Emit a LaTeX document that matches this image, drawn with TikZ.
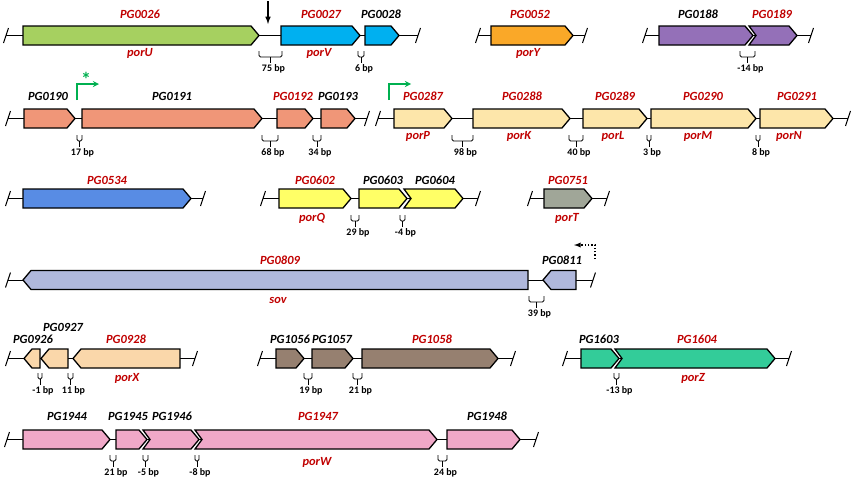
\documentclass[tikz,border=0pt]{standalone}
\usepackage{fontspec}
\setmainfont{Carlito}
\usepackage{xcolor}
\usepackage{tikz}
\usetikzlibrary{arrows}

\definecolor{pgred}{RGB}{192,0,0}
\definecolor{pgreen}{RGB}{0,176,80}
\definecolor{cporU}{RGB}{166,208,96}
\definecolor{cporV}{RGB}{0,176,240}
\definecolor{cporY}{RGB}{250,168,40}
\definecolor{c0188}{RGB}{148,112,184}
\definecolor{c0190}{RGB}{240,150,120}
\definecolor{cporP}{RGB}{253,230,170}
\definecolor{c0534}{RGB}{88,140,228}
\definecolor{cporQ}{RGB}{255,255,102}
\definecolor{cporT}{RGB}{160,166,152}
\definecolor{csov}{RGB}{176,184,220}
\definecolor{cporX}{RGB}{250,215,170}
\definecolor{c1056}{RGB}{150,128,112}
\definecolor{cporZ}{RGB}{51,204,153}
\definecolor{cporW}{RGB}{240,168,200}

% gene arrows: start, tip, row, colour
\newcommand{\genefwd}[4]{\draw[gene,fill=#4] (#1bp,-#3bp+9.5bp) -- (#2bp-8bp,-#3bp+9.5bp) -- (#2bp,-#3bp) -- (#2bp-8bp,-#3bp-9.5bp) -- (#1bp,-#3bp-9.5bp) -- cycle;}
\newcommand{\genecut}[4]{\draw[gene,fill=#4] (#1bp,-#3bp+9.5bp) -- (#2bp-8bp,-#3bp+9.5bp) -- (#2bp,-#3bp) -- (#2bp-8bp,-#3bp-9.5bp) -- (#1bp,-#3bp-9.5bp) -- (#1bp+7bp,-#3bp) -- cycle;}
\newcommand{\generev}[4]{\draw[gene,fill=#4] (#1bp,-#3bp) -- (#1bp+8bp,-#3bp+9.5bp) -- (#2bp,-#3bp+9.5bp) -- (#2bp,-#3bp-9.5bp) -- (#1bp+8bp,-#3bp-9.5bp) -- cycle;}
% break mark on the chromosome line
\newcommand{\brk}[2]{\draw[axis] (#1bp-2.5bp,-#2bp-7.5bp) -- (#1bp+2.5bp,-#2bp+7.5bp);}
% intergenic gap: name, x0, x1, top, text
\newcommand{\gapmark}[5]{%
  \draw[tick,rounded corners=1.5bp] (#2bp,-#4bp) -- (#2bp,-#4bp-6bp) -- (#3bp,-#4bp-6bp) -- (#3bp,-#4bp);
  \draw[tick] (#2bp/2+#3bp/2,-#4bp-6bp) -- ++(0,-6bp) node[bplbl,below,xshift=3bp] (#1) {#5};}

\begin{document}
\begin{tikzpicture}[
    gene/.style={draw=black,line width=1.3bp},
    axis/.style={line width=1bp},
    tick/.style={line width=0.9bp},
    pglbl/.style={font=\bfseries\itshape\fontsize{12.5}{14}\selectfont,text=pgred,inner sep=0pt},
    pgblk/.style={font=\bfseries\itshape\fontsize{12.5}{14}\selectfont,text=black,inner sep=0pt},
    bplbl/.style={font=\bfseries\fontsize{10}{11}\selectfont,inner sep=1bp,yshift=-0.5bp},
    promoter/.style={draw=pgreen,line width=1.7bp,-stealth}
]
\useasboundingbox (0bp,0bp) rectangle (856bp,-482bp);

% ---- row 1
\draw[axis] (6bp,-35.5bp) -- (418bp,-35.5bp);
\brk{6}{35.5} \brk{418}{35.5}
\genefwd{23}{259}{35.5}{cporU}
\genefwd{281}{360}{35.5}{cporV}
\genefwd{365}{399}{35.5}{cporV}
\draw[axis] (478bp,-35.5bp) -- (585bp,-35.5bp);
\brk{478}{35.5} \brk{585}{35.5}
\genefwd{491}{573}{35.5}{cporY}
\draw[axis] (645bp,-35.5bp) -- (811bp,-35.5bp);
\brk{645}{35.5} \brk{811}{35.5}
\genefwd{659}{753}{35.5}{c0188}
\genecut{749}{797}{35.5}{c0188}

\node (PG0026) at (140bp,-14bp)[pglbl] {PG0026};
\node (PG0027) at (321bp,-14bp)[pglbl] {PG0027};
\node (PG0028) at (381bp,-14bp)[pgblk] {PG0028};
\node (PG0052) at (530bp,-14bp)[pglbl] {PG0052};
\node (PG0188) at (698bp,-14bp)[pgblk] {PG0188};
\node (PG0189) at (772bp,-14bp)[pglbl] {PG0189};
\node (porU) at (140bp,-53bp)[pglbl] {porU};
\node (porV) at (319bp,-53bp)[pglbl] {porV};
\node (porY) at (528bp,-53bp)[pglbl] {porY};
\gapmark{g75}{259}{282}{51}{75 bp}
\gapmark{g6}{358}{364}{51}{6 bp}
\gapmark{g14}{740}{755}{51}{-14 bp}
\coordinate (cut1) at (268bp,-1bp);
\coordinate (cut2) at (268bp,-24bp);
\draw[-latex,line width=1.5bp] (cut1) -- (cut2);

% ---- row 2
\draw[axis] (8bp,-118.5bp) -- (367bp,-118.5bp);
\draw[axis] (378bp,-118.5bp) -- (848bp,-118.5bp);
\brk{8}{118.5} \brk{367}{118.5} \brk{378}{118.5} \brk{848}{118.5}
\genefwd{24}{75}{118.5}{c0190}
\genefwd{82}{262}{118.5}{c0190}
\genefwd{277}{313}{118.5}{c0190}
\genefwd{321}{355}{118.5}{c0190}
\genefwd{394}{452}{118.5}{cporP}
\genefwd{473}{570}{118.5}{cporP}
\genefwd{583}{647}{118.5}{cporP}
\genefwd{651}{756}{118.5}{cporP}
\genefwd{760}{833}{118.5}{cporP}

\node (PG0190) at (48bp,-96bp)[pgblk] {PG0190};
\node (PG0191) at (172bp,-96bp)[pgblk] {PG0191};
\node (PG0192) at (293bp,-96bp)[pglbl] {PG0192};
\node (PG0193) at (338bp,-96bp)[pgblk] {PG0193};
\node (PG0287) at (423bp,-96bp)[pglbl] {PG0287};
\node (PG0288) at (522bp,-96bp)[pglbl] {PG0288};
\node (PG0289) at (615bp,-96bp)[pglbl] {PG0289};
\node (PG0290) at (703bp,-96bp)[pglbl] {PG0290};
\node (PG0291) at (797bp,-96bp)[pglbl] {PG0291};
\node (porP) at (418bp,-136bp)[pglbl] {porP};
\node (porK) at (519bp,-136bp)[pglbl] {porK};
\node (porL) at (613bp,-136bp)[pglbl] {porL};
\node (porM) at (698bp,-136bp)[pglbl] {porM};
\node (porN) at (789bp,-136bp)[pglbl] {porN};
\gapmark{g17}{77}{82}{135}{17 bp}
\gapmark{g68}{262}{278}{135}{68 bp}
\gapmark{g34}{313}{321}{135}{34 bp}
\gapmark{g98}{452}{473}{135}{98 bp}
\gapmark{g40}{569}{583}{135}{40 bp}
\gapmark{g3}{647}{651}{135}{3 bp}
\gapmark{g8}{756}{760}{135}{8 bp}
\coordinate (p1) at (77bp,-100bp);
\coordinate (p1e) at (99bp,-84bp);
\draw[promoter] (p1) |- (p1e);
\node (star) at (86bp,-79bp)[text=pgreen,font=\bfseries\fontsize{20}{20}\selectfont,inner sep=0pt] {*};
\coordinate (p2) at (389bp,-100bp);
\coordinate (p2e) at (411bp,-84bp);
\draw[promoter] (p2) |- (p2e);

% ---- row 3
\draw[axis] (8bp,-198.5bp) -- (203bp,-198.5bp);
\brk{8}{198.5} \brk{203}{198.5}
\genefwd{23}{191}{198.5}{c0534}
\draw[axis] (263bp,-198.5bp) -- (478bp,-198.5bp);
\brk{263}{198.5} \brk{478}{198.5}
\genefwd{279}{351}{198.5}{cporQ}
\genefwd{359}{407}{198.5}{cporQ}
\genecut{404}{463}{198.5}{cporQ}
\draw[axis] (530bp,-198.5bp) -- (607bp,-198.5bp);
\brk{530}{198.5} \brk{607}{198.5}
\genefwd{544}{592}{198.5}{cporT}

\node (PG0534) at (107bp,-180bp)[pglbl] {PG0534};
\node (PG0602) at (315bp,-180bp)[pglbl] {PG0602};
\node (PG0603) at (383bp,-180bp)[pgblk] {PG0603};
\node (PG0604) at (435bp,-180bp)[pgblk] {PG0604};
\node (PG0751) at (568bp,-180bp)[pglbl] {PG0751};
\node (porQ) at (312bp,-218bp)[pglbl] {porQ};
\node (porT) at (567bp,-218bp)[pglbl] {porT};
\gapmark{g29}{351}{359}{215}{29 bp}
\gapmark{g4}{400}{405}{215}{-4 bp}

% ---- row 4
\draw[axis] (8bp,-280bp) -- (593bp,-280bp);
\brk{8}{280} \brk{593}{280}
\generev{23}{528}{280}{csov}
\generev{543}{576}{280}{csov}

\node (PG0809) at (280bp,-260bp)[pglbl] {PG0809};
\node (PG0811) at (562bp,-260bp)[pgblk] {PG0811};
\node (sov) at (278bp,-300bp)[pglbl] {sov};
\gapmark{g39}{529}{544}{296}{39 bp}
\coordinate (t1) at (595bp,-259bp);
\coordinate (t2) at (574bp,-245bp);
\draw[-latex,dotted,line width=1.3bp] (t1) |- (t2);

% ---- row 5
\draw[axis] (8bp,-358.5bp) -- (195bp,-358.5bp);
\brk{8}{358.5} \brk{195}{358.5}
\generev{24}{40}{358.5}{cporX}
\generev{41}{68}{358.5}{cporX}
\generev{73}{180}{358.5}{cporX}
\draw[axis] (260bp,-358.5bp) -- (513bp,-358.5bp);
\brk{260}{358.5} \brk{513}{358.5}
\genefwd{276}{304}{358.5}{c1056}
\genefwd{312}{353}{358.5}{c1056}
\genefwd{362}{498}{358.5}{c1056}
\draw[axis] (565bp,-358.5bp) -- (789bp,-358.5bp);
\brk{565}{358.5} \brk{789}{358.5}
\genefwd{581}{619}{358.5}{cporZ}
\genecut{615}{775}{358.5}{cporZ}

\node (PG0926) at (33bp,-339bp)[pgblk] {PG0926};
\node (PG0927) at (63bp,-327bp)[pgblk] {PG0927};
\node (PG0928) at (126bp,-339bp)[pglbl] {PG0928};
\node (PG1056) at (290bp,-339bp)[pgblk] {PG1056};
\node (PG1057) at (332bp,-339bp)[pgblk] {PG1057};
\node (PG1058) at (432bp,-339bp)[pglbl] {PG1058};
\node (PG1603) at (599bp,-339bp)[pgblk] {PG1603};
\node (PG1604) at (697bp,-339bp)[pglbl] {PG1604};
\node (porX) at (127bp,-378bp)[pglbl] {porX};
\node (porZ) at (693bp,-378bp)[pglbl] {porZ};
\gapmark{g1}{38}{42}{373}{-1 bp}
\gapmark{g11}{68}{73}{373}{11 bp}
\gapmark{g19}{304}{312}{373}{19 bp}
\gapmark{g21a}{353}{362}{373}{21 bp}
\gapmark{g13}{614}{619}{373}{-13 bp}

% ---- row 6
\draw[axis] (7bp,-439.5bp) -- (536bp,-439.5bp);
\brk{7}{439.5} \brk{536}{439.5}
\genefwd{23}{110}{439.5}{cporW}
\genefwd{116}{147}{439.5}{cporW}
\genecut{143}{199}{439.5}{cporW}
\genecut{195}{437}{439.5}{cporW}
\genefwd{447}{520}{439.5}{cporW}

\node (PG1944) at (67bp,-416bp)[pgblk] {PG1944};
\node (PG1945) at (128bp,-416bp)[pgblk] {PG1945};
\node (PG1946) at (172bp,-416bp)[pgblk] {PG1946};
\node (PG1947) at (318bp,-416bp)[pglbl] {PG1947};
\node (PG1948) at (487bp,-416bp)[pgblk] {PG1948};
\node (porW) at (317bp,-462bp)[pglbl] {porW};
\gapmark{g21b}{110}{116}{455}{21 bp}
\gapmark{g5}{143}{148}{455}{-5 bp}
\gapmark{g8b}{195}{199}{455}{-8 bp}
\gapmark{g24}{438}{447}{455}{24 bp}
\end{tikzpicture}
\end{document}
